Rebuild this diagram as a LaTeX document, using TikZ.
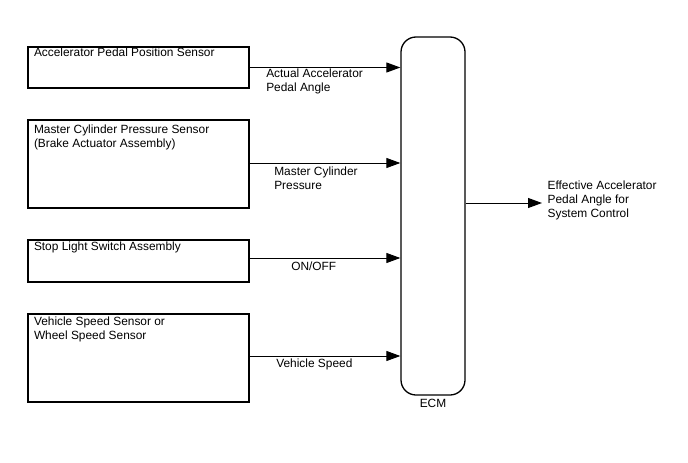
\documentclass[tikz,border=0pt]{standalone}
\usepackage{fontspec}
\setmainfont{Liberation Sans}
\usetikzlibrary{arrows.meta,positioning}

\tikzset{
  sensor/.style={draw, rectangle, minimum width=221pt, inner sep=0pt},
  boxtext/.style={anchor=north west, inner sep=0pt, align=left},
  sig/.style={anchor=north west, inner sep=0pt, align=left},
  feed/.style={line width=1pt, -{Triangle[length=14pt,width=10pt]}}
}

\begin{document}
\begin{tikzpicture}[x=1pt, y=-1pt, line width=1.3pt,
  font=\fontsize{11.9pt}{14pt}\selectfont]
\useasboundingbox (0,0) rectangle (688,463);

\node[sensor, minimum height=41pt] (accel) at (138.5,67.5) {};
\node[sensor, minimum height=88pt] (master) at (138.5,164) {};
\node[sensor, minimum height=42pt] (stop) at (138.5,261) {};
\node[sensor, minimum height=88pt] (speed) at (138.5,358) {};
\node[draw, rectangle, rounded corners=15pt, minimum width=64pt, minimum height=358pt] (ecm) at (433,216) {};

\node[boxtext] (accelT) at ([shift={(6,1)}]accel.north west) {Accelerator Pedal Position Sensor};
\node[boxtext] (masterT) at ([shift={(6,5)}]master.north west) {Master Cylinder Pressure Sensor\\(Brake Actuator Assembly)};
\node[boxtext] (stopT) at ([shift={(6,2)}]stop.north west) {Stop Light Switch Assembly};
\node[boxtext] (speedT) at ([shift={(6,3)}]speed.north west) {Vehicle Speed Sensor or\\Wheel Speed Sensor};
\node[below=3pt of ecm, inner sep=0pt] (ecmT) {ECM};

\draw[feed] (accel.east) -- (accel.east -| ecm.west);
\draw[feed] ([yshift=1]master.east) -- ([yshift=1]master.east -| ecm.west);
\draw[feed] ([yshift=3]stop.east) -- ([yshift=3]stop.east -| ecm.west);
\draw[feed] ([yshift=2]speed.east) -- ([yshift=2]speed.east -| ecm.west);
\coordinate (out) at (542,203);
\draw[feed] (ecm.east |- out) -- (out);

\node[sig] (accelS) at ([shift={(16,1)}]accel.east) {Actual Accelerator\\Pedal Angle};
\node[sig] (masterS) at ([shift={(24,2)}]master.east) {Master Cylinder\\Pressure};
\node[sig] (stopS) at ([shift={(41,0)}]stop.east) {ON/OFF};
\node[sig] (speedS) at ([shift={(26,0)}]speed.east) {Vehicle Speed};
\node[anchor=west, inner sep=0pt, align=left] (effS) at ([shift={(5,-3)}]out) {Effective Accelerator\\Pedal Angle for\\System Control};
\end{tikzpicture}
\end{document}
